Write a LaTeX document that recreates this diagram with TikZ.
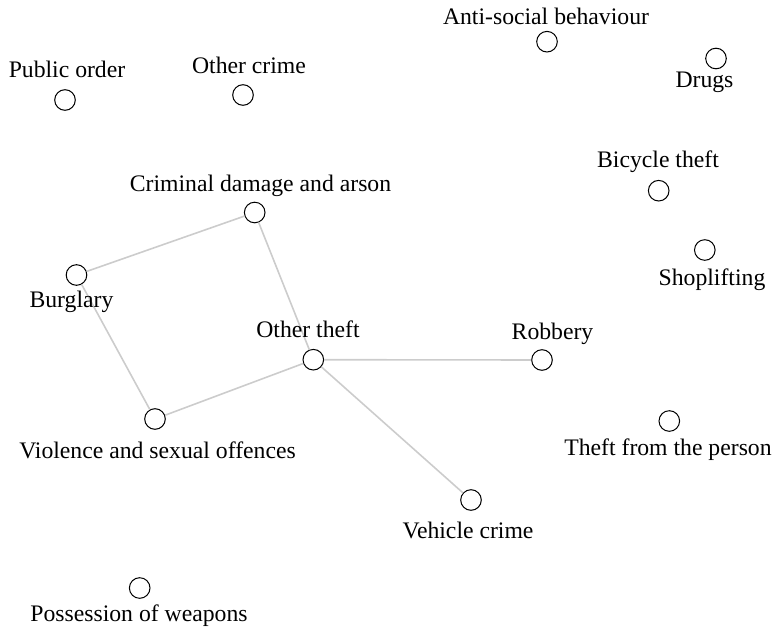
\documentclass[tikz,border=0pt]{standalone}
\usepackage{fontspec}
\setmainfont{Liberation Serif}
\begin{document}
\begin{tikzpicture}[x=1pt,y=-1pt,
  crimenode/.style={circle,draw=black,line width=1pt,fill=white,minimum size=20.6pt,inner sep=0pt},
  crimelabel/.style={anchor=base,inner sep=0pt,font=\fontsize{23.7}{28}\selectfont},
  link/.style={draw=black!20,line width=1.6pt}]
\useasboundingbox (0,0) rectangle (774,629);
% circles
\node[crimenode] (asb) at (547,41.7) {};
\node[crimenode] (drugs) at (716,58.5) {};
\node[crimenode] (po) at (65,100) {};
\node[crimenode] (oc) at (243,95) {};
\node[crimenode] (cda) at (254.7,212.5) {};
\node[crimenode] (bt) at (658.7,190.7) {};
\node[crimenode] (shop) at (704.8,250) {};
\node[crimenode] (burg) at (76.5,275) {};
\node[crimenode] (ot) at (313.3,359.7) {};
\node[crimenode] (rob) at (542,360) {};
\node[crimenode] (tfp) at (669.3,421) {};
\node[crimenode] (vso) at (155,419) {};
\node[crimenode] (veh) at (471,500) {};
\node[crimenode] (pow) at (139.7,588) {};
% links
\begin{scope}[on background layer/.style={}]
\end{scope}
\draw[link] (cda) -- (burg);
\draw[link] (cda) -- (ot);
\draw[link] (burg) -- (vso);
\draw[link] (vso) -- (ot);
\draw[link] (ot) -- (rob);
\draw[link] (ot) -- (veh);
% labels
\node[crimelabel] (asbl) at (546,24) {Anti-social behaviour};
\node[crimelabel] (drugsl) at (704.5,87) {Drugs};
\node[crimelabel] (pol) at (67,77) {Public order};
\node[crimelabel] (ocl) at (249,73) {Other crime};
\node[crimelabel] (cdal) at (260.5,191) {Criminal damage and arson};
\node[crimelabel] (btl) at (658,167) {Bicycle theft};
\node[crimelabel] (shopl) at (712,285) {Shoplifting};
\node[crimelabel] (burgl) at (71.5,307) {Burglary};
\node[crimelabel] (otl) at (308,337) {Other theft};
\node[crimelabel] (robl) at (552.5,339) {Robbery};
\node[crimelabel] (tfpl) at (668,455) {Theft from the person};
\node[crimelabel] (vsol) at (157.5,458) {Violence and sexual offences};
\node[crimelabel] (vehl) at (468,538) {Vehicle crime};
\node[crimelabel] (powl) at (139,621) {Possession of weapons};
\end{tikzpicture}
\end{document}
